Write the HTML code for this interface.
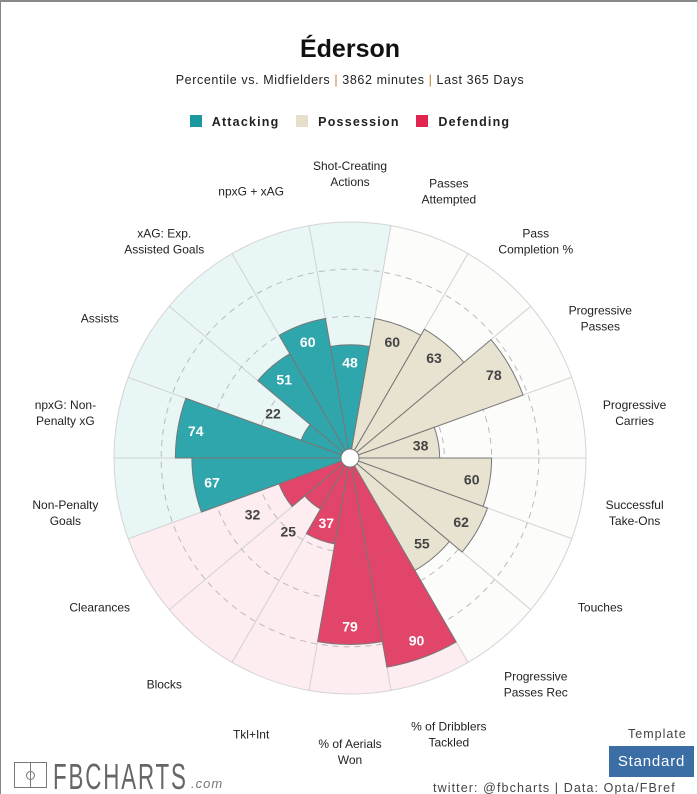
<!DOCTYPE html>
<html><head><meta charset="utf-8"><style>
html,body{margin:0;padding:0;background:#fff}
#wrap{position:relative;width:698px;height:794px;overflow:hidden;font-family:"Liberation Sans",sans-serif;box-sizing:border-box;border-left:1px solid #888;border-right:1px solid #ccc;border-top:2px solid #888}
.t{position:absolute;left:0;width:698px;text-align:center}
</style></head><body>
<div id="wrap">
<div style="position:absolute;left:-1px;top:-2px;width:68px;height:2px;background:#3a6ea5"></div>
<div class="t" style="top:33px;font-size:25px;font-weight:bold;color:#111">Éderson</div>
<div class="t" style="top:71px;font-size:12.5px;letter-spacing:0.6px;color:#222">Percentile vs. Midfielders <span style="color:#c08030">|</span> 3862 minutes <span style="color:#c08030">|</span> Last 365 Days</div>
<div class="t" style="top:113px;font-size:12.5px;font-weight:bold;letter-spacing:1.2px;color:#222">
<span><span style="display:inline-block;width:12px;height:12px;background:#1a9a9e;vertical-align:-1px;margin-right:10px"></span>Attacking</span>
<span style="margin-left:12px"><span style="display:inline-block;width:12px;height:12px;background:#e6dfcb;vertical-align:-1px;margin-right:10px"></span>Possession</span>
<span style="margin-left:12px"><span style="display:inline-block;width:12px;height:12px;background:#e0254e;vertical-align:-1px;margin-right:10px"></span>Defending</span>
</div>
<svg id="chart" width="698" height="794" style="position:absolute;left:-1px;top:-2px"></svg>
<div style="position:absolute;left:13px;top:760px;width:33px;height:26px;border:1.5px solid #777;box-sizing:border-box"><div style="position:absolute;left:15px;top:0;width:1px;height:100%;background:#777"></div><div style="position:absolute;left:11px;top:8px;width:7px;height:7px;border:1px solid #777;border-radius:50%"></div></div>
<div style="position:absolute;left:52px;top:754px;font-size:36px;color:#666;letter-spacing:3px;transform:scaleX(0.62);transform-origin:left top;font-family:'Liberation Sans Narrow','Liberation Sans',sans-serif">FBCHARTS</div>
<div style="position:absolute;left:190px;top:774px;font-size:13px;color:#777;font-style:italic;letter-spacing:1px">.com</div>
<div style="position:absolute;left:627px;top:725px;font-size:12.5px;color:#444;letter-spacing:1px">Template</div>
<div style="position:absolute;left:608px;top:744px;width:85px;height:31px;background:#3a6ea5;color:#fff;font-size:15px;letter-spacing:0.8px;line-height:31px;text-align:center">Standard</div>
<div style="position:absolute;left:432px;top:779px;font-size:12.5px;color:#444;letter-spacing:1.1px;white-space:nowrap">twitter: @fbcharts | Data: Opta/FBref</div>
</div>
<script>
const categories=[["Shot-Creating","Actions"],["Passes","Attempted"],["Pass","Completion %"],["Progressive","Passes"],["Progressive","Carries"],["Successful","Take-Ons"],["Touches"],["Progressive","Passes Rec"],["% of Dribblers","Tackled"],["% of Aerials","Won"],["Tkl+Int"],["Blocks"],["Clearances"],["Non-Penalty","Goals"],["npxG: Non-","Penalty xG"],["Assists"],["xAG: Exp.","Assisted Goals"],["npxG + xAG"]];
const values=[48,60,63,78,38,60,62,55,90,79,37,25,32,67,74,22,51,60];
const groups=["att","pos","pos","pos","pos","pos","pos","pos","def","def","def","def","def","att","att","att","att","att"];
const rings=[20,40,60,80];
const NS="http://www.w3.org/2000/svg";
const svg=document.getElementById('chart');
const cx=350,cy=458,R=236;
const fill={att:"#2ea6ab",pos:"#e8e2d1",def:"#e1466a"};
const bg={att:"#e9f6f6",pos:"#fcfcfa",def:"#fdecf0"};
const rS=v=>R*v/100;
const step=360/categories.length;
function pt(a,r){const t=(a-90)*Math.PI/180;return [cx+r*Math.cos(t),cy+r*Math.sin(t)];}
function wedge(a0,a1,r){const p0=pt(a0,r),p1=pt(a1,r);return `M${cx},${cy}L${p0[0]},${p0[1]}A${r},${r} 0 0 1 ${p1[0]},${p1[1]}Z`;}
function mk(tag,attrs){const e=document.createElementNS(NS,tag);for(const k in attrs)e.setAttribute(k,attrs[k]);svg.appendChild(e);return e;}
categories.forEach((c,i)=>{const a=i*step;
 const e=mk('path',{d:wedge(a-step/2,a+step/2,R),fill:bg[groups[i]],stroke:"#d4d4d4","stroke-width":1});
 
 
});
rings.forEach(v=>{const e=mk('circle',{cx:cx,cy:cy,r:rS(v),fill:"none",stroke:"#bbb","stroke-dasharray":"6,5","stroke-width":1});
 
 
});
values.forEach((v,i)=>{const a=i*step;
 const e=mk('path',{d:wedge(a-step/2,a+step/2,rS(v)),fill:fill[groups[i]],stroke:"#777","stroke-width":1});
 
 
});
const hole=mk('circle',{cx:cx,cy:cy,r:9,fill:"#fff",stroke:"#777","stroke-width":1});


values.forEach((v,i)=>{const a=i*step;const inside=v>=35;
 const r=inside?rS(v)-18:rS(v)+37;const p=pt(a,r);
 const col=(inside&&groups[i]!=="pos")?"#fff":"#444";
 const t=mk('text',{x:p[0],y:p[1]+5,"text-anchor":"middle","font-size":14,"font-weight":"bold",fill:col,"font-family":"Liberation Sans, sans-serif"});
 t.textContent=v;
 
 
});
categories.forEach((c,i)=>{const a=i*step;const p=pt(a,289);
 const t=mk('text',{x:p[0],y:p[1]+9-(c.length-1)*8,"text-anchor":"middle","font-size":12,fill:"#222","font-family":"Liberation Sans, sans-serif"});
 c.forEach((l,j)=>{const s=document.createElementNS(NS,'tspan');s.setAttribute('x',p[0]);if(j)s.setAttribute('dy',16);s.textContent=l;t.appendChild(s);});
 
 
});
</script>
</body></html>
